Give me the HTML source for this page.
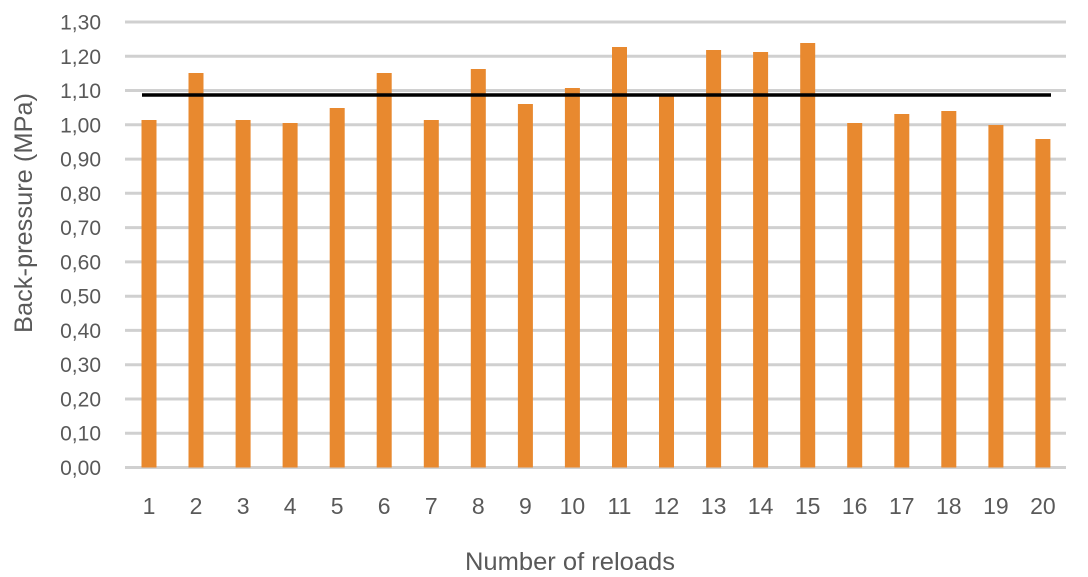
<!DOCTYPE html><html><head><style>body{margin:0;background:#fff}</style></head><body>
<svg width="1088" height="577" xmlns="http://www.w3.org/2000/svg" font-family="Liberation Sans, sans-serif" fill="#595959" style="display:block">
<g stroke="#d0d0d0" stroke-width="3">
<line x1="125" x2="1066" y1="467.5" y2="467.5"/><line x1="125" x2="1066" y1="433.2" y2="433.2"/>
<line x1="125" x2="1066" y1="399" y2="399"/><line x1="125" x2="1066" y1="364.7" y2="364.7"/>
<line x1="125" x2="1066" y1="330.4" y2="330.4"/><line x1="125" x2="1066" y1="296.2" y2="296.2"/>
<line x1="125" x2="1066" y1="261.9" y2="261.9"/><line x1="125" x2="1066" y1="227.6" y2="227.6"/>
<line x1="125" x2="1066" y1="193.3" y2="193.3"/><line x1="125" x2="1066" y1="159.1" y2="159.1"/>
<line x1="125" x2="1066" y1="124.8" y2="124.8"/><line x1="125" x2="1066" y1="90.5" y2="90.5"/>
<line x1="125" x2="1066" y1="56.3" y2="56.3"/><line x1="125" x2="1066" y1="22" y2="22"/>
</g>
<g font-size="21" text-anchor="end">
<text x="101" y="475">0,00</text><text x="101" y="440.7">0,10</text><text x="101" y="406.5">0,20</text>
<text x="101" y="372.2">0,30</text><text x="101" y="337.9">0,40</text><text x="101" y="303.7">0,50</text>
<text x="101" y="269.4">0,60</text><text x="101" y="235.1">0,70</text><text x="101" y="200.8">0,80</text>
<text x="101" y="166.6">0,90</text><text x="101" y="132.3">1,00</text><text x="101" y="98">1,10</text>
<text x="101" y="63.8">1,20</text><text x="101" y="29.5">1,30</text>
</g>
<g fill="#e8892f">
<rect x="141.5" y="120" width="15" height="347.5"/>
<rect x="188.5" y="73" width="15" height="394.5"/>
<rect x="235.6" y="120" width="15" height="347.5"/>
<rect x="282.6" y="123" width="15" height="344.5"/>
<rect x="329.7" y="108" width="15" height="359.5"/>
<rect x="376.7" y="73" width="15" height="394.5"/>
<rect x="423.8" y="120" width="15" height="347.5"/>
<rect x="470.8" y="69" width="15" height="398.5"/>
<rect x="517.9" y="104" width="15" height="363.5"/>
<rect x="564.9" y="88" width="15" height="379.5"/>
<rect x="612" y="47" width="15" height="420.5"/>
<rect x="659" y="95" width="15" height="372.5"/>
<rect x="706.1" y="50" width="15" height="417.5"/>
<rect x="753.1" y="52" width="15" height="415.5"/>
<rect x="800.2" y="43" width="15" height="424.5"/>
<rect x="847.2" y="123" width="15" height="344.5"/>
<rect x="894.3" y="114" width="15" height="353.5"/>
<rect x="941.3" y="111" width="15" height="356.5"/>
<rect x="988.4" y="125" width="15" height="342.5"/>
<rect x="1035.4" y="139" width="15" height="328.5"/>
</g>
<line x1="142" x2="1051" y1="95" y2="95" stroke="#000" stroke-width="3.5"/>
<g font-size="23" text-anchor="middle">
<text x="149" y="514">1</text><text x="196" y="514">2</text><text x="243.1" y="514">3</text>
<text x="290.1" y="514">4</text><text x="337.2" y="514">5</text><text x="384.2" y="514">6</text>
<text x="431.3" y="514">7</text><text x="478.3" y="514">8</text><text x="525.4" y="514">9</text>
<text x="572.4" y="514">10</text><text x="619.5" y="514">11</text><text x="666.5" y="514">12</text>
<text x="713.6" y="514">13</text><text x="760.6" y="514">14</text><text x="807.7" y="514">15</text>
<text x="854.7" y="514">16</text><text x="901.8" y="514">17</text><text x="948.8" y="514">18</text>
<text x="995.9" y="514">19</text><text x="1042.9" y="514">20</text>
</g>
<text x="570" y="570" font-size="25" text-anchor="middle" textLength="210" lengthAdjust="spacingAndGlyphs">Number of reloads</text>
<text transform="translate(32,213) rotate(-90)" font-size="25" text-anchor="middle" textLength="240" lengthAdjust="spacingAndGlyphs">Back-pressure (MPa)</text>
</svg></body></html>
